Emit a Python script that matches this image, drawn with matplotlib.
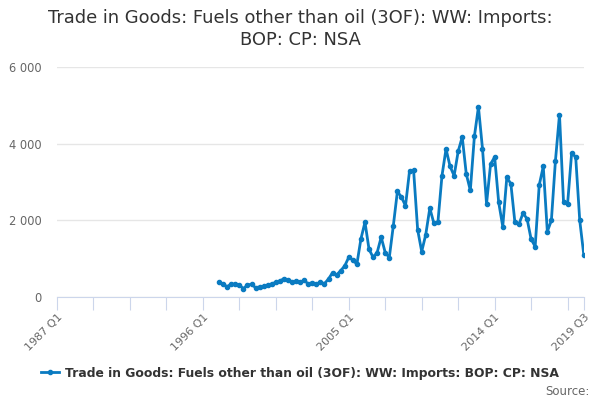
import numpy as np
import matplotlib.pyplot as plt

# quarters 1987 Q1 .. 2019 Q3
quarters = [f"{y} Q{q}" for y in range(1987, 2020) for q in range(1, 5)][:131]

# values from 1997 Q1 onwards (GBP million), earlier quarters have no data
imports_1997 = [
    384, 331, 270, 340, 331, 314, 218, 314, 331, 244, 261, 279, 314, 340, 384, 418, 479, 444, 401, 405,
    384, 436, 340, 375, 340, 384, 349, 471, 636, 575, 688, 810, 1037, 967, 854, 1516, 1952, 1246, 1037, 1159, 1560, 1159,
    1028, 1865, 2754, 2606, 2379, 3294, 3303, 1752, 1185, 1630, 2318, 1926, 1952, 3163, 3861, 3407, 3163, 3800, 4175, 3207, 2780,
    4190, 4959, 3869, 2431, 3469, 3651, 2466, 1839, 3120, 2954, 1944, 1900, 2187, 2039, 1508, 1316, 2920, 3407, 1708, 1996,
    3556, 4758, 2466, 2431, 3756, 3651, 1996, 1098,
]
values = [np.nan] * (len(quarters) - len(imports_1997)) + imports_1997
shown_labels = ["1987 Q1", "1996 Q1", "2005 Q1", "2014 Q1", "2019 Q3"]
y_ticks = [0, 2000, 4000, 6000]
series_name = "Trade in Goods: Fuels other than oil (3OF): WW: Imports: BOP: CP: NSA"

fig = plt.figure(figsize=(6, 4), dpi=100)
ax = fig.add_axes([0.095, 0.2575, 0.878, 0.575])

x = np.arange(len(quarters))
line, = ax.plot(x, values, color="#0a7bc1", linewidth=2, marker="o", markersize=3,
                label=series_name)

ax.set_xlim(0, len(quarters) - 1)
ax.set_ylim(0, 6000)

# y axis
ax.set_yticks(y_ticks)
ax.set_yticklabels([f"{v:,}".replace(",", " ") for v in y_ticks])
ax.tick_params(axis="y", length=0, colors="#666666", labelsize=8.3, pad=11)
ax.grid(axis="y", color="#e6e6e6", linewidth=1)
ax.set_axisbelow(True)

# x axis
tick_pos = list(range(0, len(quarters), 9)) + [len(quarters) - 1]
ax.set_xticks(tick_pos)
ax.set_xticklabels([quarters[p] if quarters[p] in shown_labels else "" for p in tick_pos],
                   rotation=45, ha="right", rotation_mode="anchor")
ax.tick_params(axis="x", length=9, color="#ccd6eb", colors="#666666", labelsize=8, pad=2)
for lab in ax.get_xticklabels():
    lab.set_color("#666666")

for s in ["top", "right", "left"]:
    ax.spines[s].set_visible(False)
ax.spines["bottom"].set_color("#ccd6eb")

fig.suptitle("Trade in Goods: Fuels other than oil (3OF): WW: Imports:\nBOP: CP: NSA",
             y=0.978, fontsize=12.9, color="#333333", linespacing=1.3)

leg = fig.legend(handles=[line], loc="center", bbox_to_anchor=(0.5, 0.067), frameon=False,
                 handlelength=1.4, handletextpad=0.5, prop={"weight": "bold", "size": 8.9})
for t in leg.get_texts():
    t.set_color("#333333")

fig.text(0.982, 0.022, "Source:", ha="right", va="center", fontsize=8.5, color="#666666")

fig.savefig("out.png", dpi=100)
